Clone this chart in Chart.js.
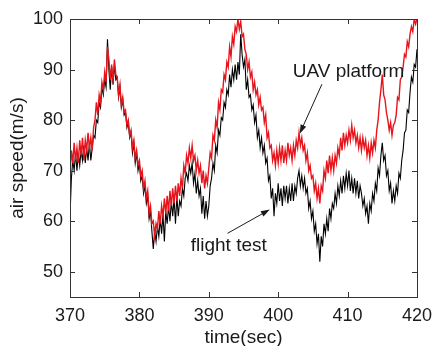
<!DOCTYPE html>
<html>
<head>
<meta charset="utf-8">
<script src="https://cdn.jsdelivr.net/npm/chart.js@4"></script>
<style>
  html, body { margin: 0; padding: 0; background: #fff; }
  #wrap { width: 440px; height: 346px; }
</style>
</head>
<body>
<div id="wrap"><canvas id="speedChart" width="440" height="346"></canvas></div>
<script>
// sampling grid of the recorded series (seconds)
const startTime = 370;
const timeStep = 0.2;

// UAV platform (red), one row per second: t, t+.2, t+.4, t+.6, t+.8
const uavSpeed = [
    69.5, 74, 71.5, 75.5, 72,
    74.5, 71.5, 76, 73, 76.5,
    72, 76, 74, 77.5, 74.5,
    76.5, 74, 78.5, 80, 83.5,
    81, 85, 83.5, 87.5, 86,
    89.5, 87.5, 94.5, 92, 88,
    91, 87.5, 92, 89, 88.5,
    85, 87, 83, 84.5, 81.5,
    82, 79, 80, 77, 78,
    74.5, 76, 72.5, 74, 71,
    72, 69, 70, 66.5, 68,
    64.5, 66, 61.5, 63, 59.5,
    60, 57, 59.5, 58.5, 62,
    59.5, 63, 61, 64.5, 61.5,
    65, 62, 66, 63, 66.5,
    63.5, 67, 64, 67.5, 65,
    68.5, 66.5, 71, 69.5, 73,
    71.5, 74.5, 72.5, 75, 72,
    73, 70, 72, 69.5, 71,
    67.5, 70, 66.5, 69, 67.5,
    70.5, 73.5, 72.5, 77, 76,
    80, 78.5, 83.5, 82, 86,
    85.5, 89, 88, 91.5, 90.5,
    94.5, 92.5, 96.5, 95, 98.5,
    97.5, 100, 98, 99.5, 96.5,
    97, 94, 93, 90, 91.5,
    88.5, 89.5, 86, 87.5, 85,
    86, 83, 84.5, 82, 82.5,
    79.5, 81, 76.5, 77.5, 74.5,
    75, 72, 73.5, 71, 74,
    71.5, 74.5, 72, 75, 71.5,
    74, 72, 75.5, 73, 74.5,
    72, 75, 73, 76, 74.5,
    77.5, 75, 76.5, 74, 75,
    72, 73.5, 70, 71, 68.5,
    69, 66, 67.5, 64.5, 66.5,
    63.5, 67, 66, 70, 68.5,
    72, 69.5, 73, 70, 72.5,
    70, 73, 71.5, 74.5, 73,
    76.5, 74, 77.5, 75, 77,
    75.5, 78, 76, 79, 76.5,
    78, 75.5, 77, 74.5, 76.5,
    74, 76.5, 74.5, 76, 73,
    75, 72.5, 75.5, 73.5, 76,
    74.5, 78, 80, 83.5, 86,
    89, 85, 84, 81.5, 80,
    78, 79.5, 77, 79, 79.5,
    81, 84.5, 84, 88, 88.5,
    90.5, 93, 92.5, 95.5, 94.5,
    97, 98.5, 97.5, 100, 99,
    100
];

// flight test (black)
const flightSpeed = [
    61, 68.5, 72, 70, 73.5,
    70, 73.5, 71, 74, 72,
    75, 71.5, 74.5, 72, 75.5,
    72, 74.5, 77, 76.5, 80,
    79.5, 83.5, 82.5, 86.5, 85,
    88, 86.5, 96, 90, 86,
    90.5, 87, 91, 88, 88.5,
    84.5, 86.5, 82.5, 84, 81,
    81.5, 78.5, 79.5, 76.5, 77.5,
    73.5, 75.5, 71.5, 73.5, 70,
    71.5, 68, 69, 65.5, 67,
    63.5, 65, 60.5, 62, 58,
    54.5, 58, 56, 59, 57,
    60.5, 57.5, 61.5, 56, 62,
    59.5, 63, 60, 64, 61,
    64.5, 59.5, 65, 61, 64,
    63, 66.5, 65, 68.5, 69.5,
    68, 71, 69.5, 71.5, 67.5,
    69.5, 65.5, 68, 65, 66.5,
    61.5, 65, 60.5, 64, 61,
    63, 67, 68.5, 71.5, 70,
    75, 73.5, 78, 77, 80.5,
    80, 83.5, 82.5, 86, 85,
    89, 86.5, 90, 88, 91,
    88, 91.5, 89, 97, 93,
    90.5, 92, 86, 88, 84.5,
    85, 82, 83, 79.5, 81,
    76.5, 78, 74.5, 76.5, 73.5,
    75, 71.5, 72.5, 68, 69,
    64.5, 66.5, 61, 65.5, 63.5,
    67.5, 64, 66.5, 63, 67,
    64.5, 67, 63.5, 66.5, 64,
    67.5, 64, 67, 65.5, 68.5,
    70, 67, 69, 66.5, 68.5,
    65.5, 66.5, 62.5, 64, 60.5,
    62, 58, 59.5, 55.5, 57.5,
    52, 57, 55, 59.5, 57.5,
    60.5, 58, 62.5, 60.5, 63.5,
    62.5, 65.5, 63.5, 67, 65,
    68, 65.5, 69, 66.5, 69.5,
    67, 70, 66, 68.5, 65.5,
    68.5, 65.5, 68, 64.5, 67,
    65.5, 63, 64.5, 61.5, 63,
    59.5, 63.5, 62, 65.5, 64,
    67.5, 66, 70.5, 69, 73,
    75.5, 72, 73, 69, 70,
    66, 67.5, 63.5, 66, 64,
    67, 65.5, 69.5, 68.5, 72,
    74, 77.5, 78, 82, 81.5,
    85.5, 88.5, 87.5, 91, 90.5,
    94
];

const xTicks = [370, 380, 390, 400, 410, 420];
const yTicks = [50, 60, 70, 80, 90, 100];

// text labels with arrows, in data units
const notes = [
    { text: 'UAV platform', x: 402.1, y: 89.6, from: [406.3, 87.1], to: [403.1, 77.3] },
    { text: 'flight test', x: 387.4, y: 55.1, from: [392.7, 57.6], to: [398.8, 62.3] }
];

function toPoints(values) {
    return values.map((v, i) => ({ x: startTime + i * timeStep, y: v }));
}

const FONT = 'Arial, "Liberation Sans", sans-serif';
const INK = '#1a1a1a';

// box round the plot, inward ticks on all four sides, and the two notes
const framePlugin = {
    id: 'frame',
    afterDraw(chart) {
        const ctx = chart.ctx;
        const a = chart.chartArea;
        const xs = chart.scales.x, ys = chart.scales.y;
        ctx.save();
        ctx.strokeStyle = '#333';
        ctx.lineWidth = 1;
        ctx.strokeRect(Math.round(a.left) + 0.5, Math.round(a.top) + 0.5,
            Math.round(a.right - a.left), Math.round(a.bottom - a.top));
        ctx.beginPath();
        xTicks.forEach(t => {
            const px = Math.round(xs.getPixelForValue(t)) + 0.5;
            ctx.moveTo(px, a.bottom); ctx.lineTo(px, a.bottom - 5);
            ctx.moveTo(px, a.top); ctx.lineTo(px, a.top + 5);
        });
        yTicks.forEach(v => {
            const py = Math.round(ys.getPixelForValue(v)) + 0.5;
            ctx.moveTo(a.left, py); ctx.lineTo(a.left + 5, py);
            ctx.moveTo(a.right, py); ctx.lineTo(a.right - 5, py);
        });
        ctx.stroke();

        ctx.fillStyle = INK;
        ctx.strokeStyle = INK;
        ctx.font = '19px ' + FONT;
        ctx.textBaseline = 'middle';
        notes.forEach(n => {
            ctx.fillText(n.text, xs.getPixelForValue(n.x), ys.getPixelForValue(n.y));
            const x1 = xs.getPixelForValue(n.from[0]), y1 = ys.getPixelForValue(n.from[1]);
            const x2 = xs.getPixelForValue(n.to[0]), y2 = ys.getPixelForValue(n.to[1]);
            const ang = Math.atan2(y2 - y1, x2 - x1);
            ctx.beginPath();
            ctx.moveTo(x1, y1);
            ctx.lineTo(x2 - 6 * Math.cos(ang), y2 - 6 * Math.sin(ang));
            ctx.stroke();
            ctx.beginPath();
            ctx.moveTo(x2, y2);
            ctx.lineTo(x2 - 9 * Math.cos(ang) + 3 * Math.sin(ang), y2 - 9 * Math.sin(ang) - 3 * Math.cos(ang));
            ctx.lineTo(x2 - 9 * Math.cos(ang) - 3 * Math.sin(ang), y2 - 9 * Math.sin(ang) + 3 * Math.cos(ang));
            ctx.closePath();
            ctx.fill();
        });
        ctx.restore();
    }
};

const ctx = document.getElementById('speedChart').getContext('2d');
const speedChart = new Chart(ctx, {
    type: 'line',
    data: {
        datasets: [
            {
                label: 'UAV platform',
                data: toPoints(uavSpeed),
                borderColor: '#e8141c',
                borderWidth: 1.4,
                pointRadius: 0,
                tension: 0
            },
            {
                label: 'flight test',
                data: toPoints(flightSpeed),
                borderColor: '#000',
                borderWidth: 1.1,
                pointRadius: 0,
                tension: 0
            }
        ]
    },
    options: {
        responsive: false,
        animation: false,
        layout: { padding: { top: 19, right: 17, left: 0, bottom: 0 } },
        plugins: {
            legend: { display: false },
            tooltip: { enabled: false }
        },
        scales: {
            x: {
                type: 'linear',
                min: 370,
                max: 420,
                afterBuildTicks: s => { s.ticks = xTicks.map(v => ({ value: v })); },
                afterFit: s => { s.height = 49; },
                grid: { display: false, drawTicks: false },
                border: { display: false },
                ticks: { color: INK, padding: 8, maxRotation: 0, font: { family: FONT, size: 18 } },
                title: {
                    display: true,
                    text: 'time(sec)',
                    color: INK,
                    padding: { top: 0, bottom: 0 },
                    font: { family: FONT, size: 19, lineHeight: 0.84 }
                }
            },
            y: {
                type: 'linear',
                min: 45,
                max: 100,
                afterBuildTicks: s => { s.ticks = yTicks.map(v => ({ value: v })); },
                afterFit: s => { s.width = 70; },
                grid: { display: false, drawTicks: false },
                border: { display: false },
                ticks: { color: INK, padding: 7, font: { family: FONT, size: 18 } },
                title: {
                    display: true,
                    text: 'air speed(m/s)',
                    color: INK,
                    padding: { top: 6, bottom: 0 },
                    font: { family: FONT, size: 19 }
                }
            }
        }
    },
    plugins: [framePlugin]
});
</script>
</body>
</html>
